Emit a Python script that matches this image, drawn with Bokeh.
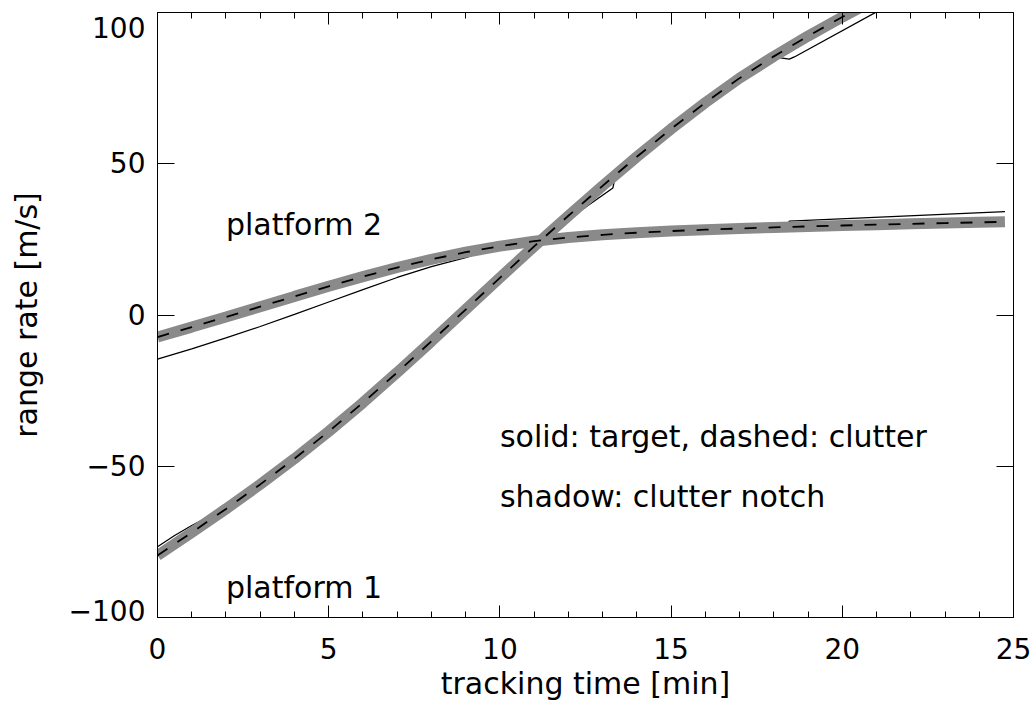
from bokeh.plotting import figure
from bokeh.models import Range1d, LinearAxis, FixedTicker
from bokeh.embed import file_html
from bokeh.resources import INLINE

# ---------------- data ----------------
# platform 1: clutter (dashed + shadow) and target (solid)
t1_clutter = [0, 1, 2, 3, 4, 5, 6, 7, 8, 9, 10, 11, 12, 13, 14, 15, 16, 17, 18, 19, 20, 21]
v1_clutter = [-79.5, -71.9, -64.1, -56.0, -47.5, -38.5, -29.0, -19.0, -8.7, 1.8, 12.3,
              22.7, 32.8, 42.7, 52.3, 61.5, 70.2, 78.3, 85.5, 92.2, 98.5, 104.5]
t1_target = [0, 0.5, 1, 1.5, 2, 3, 4, 5, 6, 7, 8, 9, 10, 11, 12, 12.5, 13.3, 13.38,
             14, 15, 16, 17, 18, 18.2, 18.45, 18.6, 21.0, 21.5]
v1_target = [-76.6, -72.9, -69.6, -66.6, -63.6, -55.8, -47.4, -38.5, -29.0, -19.0, -8.7,
             1.8, 12.3, 22.7, 32.4, 35.6, 42.0, 46.3, 52.3, 61.5, 70.2, 78.3, 85.5,
             85.0, 84.6, 85.3, 100.2, 103.4]

# platform 2
t2_clutter = [0, 1, 2, 3, 4, 5, 6, 7, 8, 9, 10, 11, 12, 13, 14, 15, 16, 17, 18, 19, 20,
              21, 22, 23, 24, 24.75]
v2_clutter = [-7.3, -4.0, -0.65, 2.75, 6.15, 9.5, 12.7, 15.7, 18.4, 20.75, 22.75, 24.4,
              25.6, 26.5, 27.2, 27.75, 28.2, 28.6, 28.96, 29.29, 29.59, 29.87, 30.14,
              30.39, 30.63, 30.81]
t2_target = [0, 1, 2, 3, 4, 5, 6, 7, 8, 9, 10, 11, 12, 13, 14, 15, 16, 17, 18, 18.35,
             18.45, 24.75]
v2_target = [-14.6, -11.2, -7.6, -3.8, 0.2, 4.3, 8.4, 12.4, 16.0, 19.0, 22.75, 24.4, 25.6,
             26.5, 27.2, 27.75, 28.2, 28.6, 28.96, 29.1, 31.0, 34.2]

x_ticks = [0, 5, 10, 15, 20, 25]
x_minor = [1, 2, 3, 4, 6, 7, 8, 9, 11, 12, 13, 14, 16, 17, 18, 19, 21, 22, 23, 24]
y_ticks = [-100, -50, 0, 50, 100]
y_tick_labels = ["\u2212100", "\u221250", "0", "50", "100"]

x_title = "tracking time [min]"
y_title = "range rate [m/s]"

note_texts = ["platform 2", "platform 1", "solid: target, dashed: clutter", "shadow: clutter notch"]
note_x = [2, 2, 10, 10]
note_y = [30, -90, -40, -60]

# ---------------- style ----------------
FONT = "DejaVu Sans"
TICK_SIZE = "28px"
TEXT_SIZE = "30px"
SHADOW = "#8a8a8a"

p = figure(width=1032, height=704, output_backend="svg", toolbar_location=None,
           x_range=Range1d(0, 25), y_range=Range1d(-100, 100),
           min_border_left=157, min_border_right=19, min_border_top=12, min_border_bottom=87,
           background_fill_color="white", border_fill_color="white")
p.xgrid.visible = False
p.ygrid.visible = False
p.outline_line_color = "black"
p.outline_line_width = 1


def style_common(ax, show_labels):
    ax.axis_line_color = "black"
    ax.major_tick_line_color = "black"
    ax.minor_tick_line_color = "black"
    ax.major_tick_out = 0
    ax.minor_tick_out = 0
    if show_labels:
        ax.major_label_text_font = FONT
        ax.major_label_text_font_size = TICK_SIZE
        ax.major_label_text_color = "black"
        ax.axis_label_text_font = FONT
        ax.axis_label_text_font_size = TEXT_SIZE
        ax.axis_label_text_font_style = "normal"
        ax.axis_label_text_color = "black"
    else:
        ax.major_label_text_color = None
        ax.major_label_text_font_size = "1px"
        ax.major_label_standoff = 0


def style_x(ax, show_labels):
    ax.ticker = FixedTicker(ticks=x_ticks, minor_ticks=x_minor)
    ax.major_tick_in = 12
    ax.minor_tick_in = 6
    style_common(ax, show_labels)


def style_y(ax, show_labels):
    ax.ticker = FixedTicker(ticks=y_ticks, minor_ticks=[])
    ax.major_tick_in = 17
    ax.minor_tick_in = 0
    style_common(ax, show_labels)


xa = p.xaxis[0]
style_x(xa, True)
xa.major_label_standoff = 20
xa.axis_label = x_title
xa.axis_label_standoff = 4

ya = p.yaxis[0]
style_y(ya, True)
ya.major_label_standoff = 12
# end labels are kept inside the frame's vertical extent, as in the reference
labels = {}
for t, s in zip(y_ticks, y_tick_labels):
    if t == max(y_ticks):
        labels[t] = "\n" + s
    elif t == min(y_ticks):
        labels[t] = s + "\n"
    else:
        labels[t] = s
ya.major_label_overrides = labels
ya.major_label_text_line_height = 0.35
ya.axis_label = y_title
ya.axis_label_standoff = 22

top_ax = LinearAxis()
style_x(top_ax, False)
p.add_layout(top_ax, "above")
right_ax = LinearAxis()
style_y(right_ax, False)
p.add_layout(right_ax, "right")

# curves: target (solid) below, shadow, then dashed clutter on top
p.line(t1_target, v1_target, line_color="black", line_width=1.3)
p.line(t2_target, v2_target, line_color="black", line_width=1.3)
p.line(t2_clutter, v2_clutter, line_color=SHADOW, line_width=11)
p.line(t1_clutter, v1_clutter, line_color=SHADOW, line_width=11)
p.line(t2_clutter, v2_clutter, line_color="black", line_width=1.8, line_dash="12 12")
p.line(t1_clutter, v1_clutter, line_color="black", line_width=1.8, line_dash="12 12")

# notes (inside the frame)
p.text(x=note_x, y=note_y, text=note_texts, text_align="left", text_baseline="alphabetic",
       text_font={"value": FONT}, text_font_size={"value": TEXT_SIZE}, text_color="black")

open("out.html", "w").write(file_html(p, INLINE))
